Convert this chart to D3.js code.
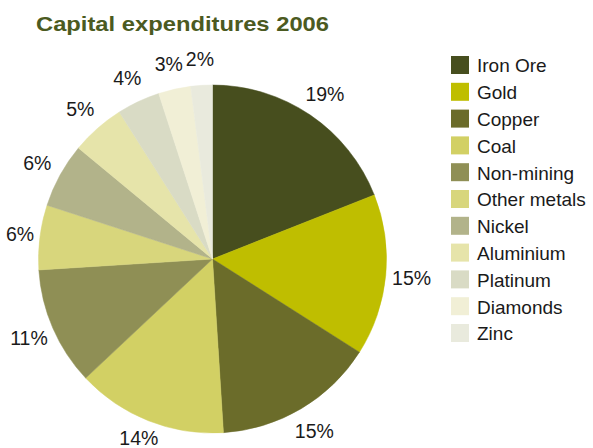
<!DOCTYPE html>
<html>
<head>
<meta charset="utf-8">
<script src="https://cdn.jsdelivr.net/npm/d3@7"></script>
<style>
  html, body { margin: 0; padding: 0; background: #ffffff; }
  svg { display: block; font-family: "Liberation Sans", Arial, Helvetica, sans-serif; }
</style>
</head>
<body>
<svg id="chart" width="593" height="448"></svg>
<script>
// Share of capital expenditures by business, 2006 (percent)
const categories = ["Iron Ore", "Gold", "Copper", "Coal", "Non-mining", "Other metals",
                    "Nickel", "Aluminium", "Platinum", "Diamonds", "Zinc"];
const shares = [19, 15, 15, 14, 11, 6, 6, 5, 4, 3, 2];
const palette = ["#474e1e", "#bfbe00", "#6b6c2a", "#d2d064", "#8f8f55", "#d8d67c",
                 "#b2b38a", "#e6e4aa", "#d9dbc5", "#f1efd6", "#e9eadd"];

const width = 593, height = 448;
const svg = d3.select("#chart");
const cx = 212.5, cy = 259, radius = 174, labelRadius = 200;

svg.append("text")
  .attr("x", 36).attr("y", 30.5)
  .attr("font-size", 20.5).attr("font-weight", "bold")
  .attr("fill", "#4b5a21")
  .attr("textLength", 293)
  .attr("lengthAdjust", "spacingAndGlyphs")
  .text("Capital expenditures 2006");

const data = categories.map((c, i) => ({ name: c, value: shares[i], color: palette[i] }));

const pie = d3.pie().value(d => d.value).sort(null);
const arc = d3.arc().innerRadius(0).outerRadius(radius);
const labelArc = d3.arc().innerRadius(labelRadius).outerRadius(labelRadius);

const g = svg.append("g").attr("transform", `translate(${cx},${cy})`);
const arcs = pie(data);

g.selectAll("path.slice")
  .data(arcs)
  .join("path")
  .attr("class", "slice")
  .attr("d", arc)
  .attr("fill", d => d.data.color)
  .attr("stroke", d => d.data.color)
  .attr("stroke-width", 0.5);

// Percentage labels around the rim, kept inside the drawing area
g.selectAll("text.pct")
  .data(arcs)
  .join("text")
  .attr("class", "pct")
  .attr("transform", d => {
    const [x, y] = labelArc.centroid(d);
    const px = Math.max(x, 20 - cx);
    const py = Math.min(y, height - 10 - cy);
    return `translate(${px},${py})`;
  })
  .attr("text-anchor", "middle")
  .attr("dy", "0.36em")
  .attr("font-size", 19.5)
  .attr("fill", "#1a1a1a")
  .text(d => d.data.value + "%");

// Legend
const legend = svg.append("g").attr("transform", "translate(451,56)");
const step = 26.8;
const item = legend.selectAll("g.item")
  .data(data)
  .join("g")
  .attr("class", "item")
  .attr("transform", (d, i) => `translate(0,${i * step})`);

item.append("rect")
  .attr("width", 18).attr("height", 18)
  .attr("fill", d => d.color);

item.append("text")
  .attr("x", 26).attr("y", 16.3)
  .attr("font-size", 19)
  .attr("fill", "#1a1a1a")
  .text(d => d.name);
</script>
</body>
</html>
